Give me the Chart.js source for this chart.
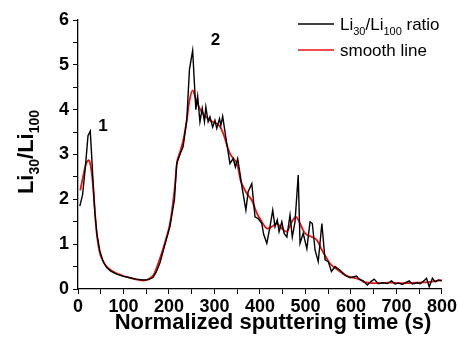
<!DOCTYPE html>
<html>
<head>
<meta charset="utf-8">
<script src="https://cdn.jsdelivr.net/npm/chart.js@4.4.1/dist/chart.umd.min.js"></script>
<style>
  html, body { margin: 0; padding: 0; background: #fff; }
  #wrap { width: 459px; height: 342px; }
</style>
</head>
<body>
<div id="wrap"><canvas id="chartLi"></canvas></div>
<script>
// raw Li30/Li100 ratio (black)
const timeRaw = [4, 10, 16, 22, 27, 32, 37, 42, 48, 55, 63, 72, 85, 100, 114, 128, 143, 155, 165, 172,
  180, 190, 202, 212, 217, 224, 231, 239, 245, 252, 259, 263, 268, 273, 278, 281, 286, 290, 296, 301,
  305, 311, 314, 318, 327, 334, 341, 346, 351, 356, 360, 369, 374, 382, 389, 396, 404, 408, 415, 422,
  428, 433, 438, 442, 448, 453, 459, 466, 471, 477, 484, 488, 495, 503, 510, 515, 521, 528, 536, 543,
  550, 557, 565, 576, 587, 598, 612, 618, 627, 636, 643, 651, 660, 670, 680, 689, 697, 705, 713, 720,
  728, 735, 745, 752, 760, 766, 772, 779, 785, 792, 800];
const ratioRaw = [1.85, 2.1, 2.7, 3.42, 3.52, 2.6, 1.7, 1.2, 0.85, 0.62, 0.48, 0.4, 0.33, 0.28, 0.25, 0.22, 0.2, 0.21, 0.26, 0.38,
  0.58, 0.95, 1.39, 2.0, 2.8, 3.0, 3.17, 3.76, 4.9, 5.32, 4.0, 4.3, 3.73, 4.03, 3.73, 4.06, 3.73, 3.84, 3.61, 3.76,
  3.58, 3.8, 3.65, 3.85, 3.24, 2.8, 2.91, 2.72, 2.91, 2.58, 2.3, 1.76, 2.17, 2.35, 1.61, 1.57, 1.46, 1.22, 1.02, 1.39,
  1.76, 1.39, 1.54, 1.28, 1.5, 1.24, 1.16, 1.65, 1.16, 1.5, 2.54, 1.02, 1.24, 0.9, 1.5, 1.46, 0.87, 0.61, 1.46, 0.65,
  0.61, 0.39, 0.5, 0.42, 0.31, 0.25, 0.29, 0.22, 0.18, 0.09, 0.16, 0.22, 0.12, 0.14, 0.12, 0.18, 0.11, 0.13, 0.1, 0.14,
  0.18, 0.11, 0.14, 0.12, 0.18, 0.24, 0.05, 0.24, 0.16, 0.2, 0.18];

// smoothed curve (red)
const timeSmooth = [5, 12, 18, 24, 30, 36, 41, 48, 55, 63, 75, 85, 100, 114, 130, 143, 155, 165, 172, 180,
  190, 202, 212, 218, 224, 231, 239, 245, 252, 261, 272, 290, 308, 319, 334, 349, 358, 371, 382, 393,
  404, 415, 426, 437, 448, 459, 470, 479, 488, 499, 514, 525, 536, 547, 557, 572, 587, 601, 618, 627,
  656, 686, 715, 744, 774, 800];
const ratioSmooth = [2.2, 2.55, 2.8, 2.87, 2.6, 1.9, 1.25, 0.8, 0.62, 0.5, 0.4, 0.35, 0.29, 0.25, 0.21, 0.19, 0.22, 0.3, 0.45, 0.68,
  1.0, 1.45, 2.2, 2.85, 3.05, 3.3, 3.76, 4.2, 4.43, 4.17, 3.95, 3.76, 3.67, 3.47, 3.02, 2.8, 2.4, 2.13, 1.98, 1.69,
  1.5, 1.35, 1.39, 1.46, 1.35, 1.28, 1.5, 1.61, 1.46, 1.24, 1.16, 1.09, 0.87, 0.68, 0.53, 0.42, 0.31, 0.26, 0.22, 0.16,
  0.13, 0.14, 0.13, 0.14, 0.16, 0.2];

// peak labels
const peakNames = ['1', '2'];
const peakTime = [55, 302];
const peakRatio = [3.62, 5.55];

const FONT = '"Liberation Sans", Arial, sans-serif';

function toPoints(xs, ys) {
    return xs.map((x, i) => ({ x: x, y: ys[i] }));
}

function partFont(weight, size, sub) {
    return weight + ' ' + (sub ? Math.round(size * 0.62) : size) + 'px ' + FONT;
}

// text with subscript parts: [[text, isSub], ...]
function drawRich(ctx, parts, x, y, size, weight) {
    let cx = x;
    parts.forEach(p => {
        ctx.font = partFont(weight, size, p[1]);
        ctx.fillText(p[0], cx, p[1] ? y + size * 0.28 : y);
        cx += ctx.measureText(p[0]).width;
    });
    return cx - x;
}

function richWidth(ctx, parts, size, weight) {
    let w = 0;
    parts.forEach(p => {
        ctx.font = partFont(weight, size, p[1]);
        w += ctx.measureText(p[0]).width;
    });
    return w;
}

const decorPlugin = {
    id: 'decor',
    afterDraw(chart) {
        const ctx = chart.ctx;
        const xs = chart.scales.x, ys = chart.scales.y;
        ctx.save();
        ctx.fillStyle = '#000';
        ctx.textBaseline = 'alphabetic';

        // axis titles
        ctx.font = 'bold 22px ' + FONT;
        ctx.textAlign = 'center';
        ctx.fillText('Normalized sputtering time (s)', 273, 329);

        ctx.textAlign = 'left';
        const yParts = [['Li', false], ['30', true], ['/Li', false], ['100', true]];
        const w = richWidth(ctx, yParts, 22, 'bold');
        ctx.save();
        ctx.translate(33, 152);
        ctx.rotate(-Math.PI / 2);
        drawRich(ctx, yParts, -w / 2, 0, 22, 'bold');
        ctx.restore();

        // peak numbers
        ctx.font = 'bold 17px ' + FONT;
        ctx.textAlign = 'center';
        ctx.textBaseline = 'middle';
        peakNames.forEach((n, i) => {
            ctx.fillText(n, xs.getPixelForValue(peakTime[i]), ys.getPixelForValue(peakRatio[i]));
        });

        // legend
        ctx.textAlign = 'left';
        ctx.textBaseline = 'alphabetic';
        const items = [
            { color: '#000000', parts: [['Li', false], ['30', true], ['/Li', false], ['100', true], [' ratio', false]] },
            { color: '#ee1111', parts: [['smooth line', false]] }
        ];
        items.forEach((it, i) => {
            const ly = 24 + i * 26;
            ctx.strokeStyle = it.color;
            ctx.lineWidth = 1.5;
            ctx.beginPath();
            ctx.moveTo(298, ly);
            ctx.lineTo(334, ly);
            ctx.stroke();
            drawRich(ctx, it.parts, 340, ly + 6, 17, 'normal');
        });
        ctx.restore();
    }
};

new Chart(document.getElementById('chartLi'), {
    type: 'line',
    data: {
        datasets: [
            {
                label: 'Li30/Li100 ratio',
                data: toPoints(timeRaw, ratioRaw),
                borderColor: '#000000',
                borderWidth: 1.4,
                tension: 0,
                pointRadius: 0,
                fill: false
            },
            {
                label: 'smooth line',
                data: toPoints(timeSmooth, ratioSmooth),
                borderColor: '#ee1111',
                borderWidth: 1.8,
                tension: 0.35,
                pointRadius: 0,
                fill: false
            }
        ]
    },
    options: {
        responsive: true,
        maintainAspectRatio: false,
        animation: false,
        layout: { padding: { left: 0, top: 20, right: 17, bottom: 0 } },
        plugins: { legend: { display: false }, tooltip: { enabled: false } },
        scales: {
            x: {
                type: 'linear',
                min: 0, max: 800,
                afterFit: s => { s.height = 53; },
                border: { display: true, color: '#000', width: 1.3 },
                grid: { drawOnChartArea: false, drawTicks: true, tickLength: 5, color: '#000', tickWidth: 1 },
                ticks: {
                    stepSize: 50,
                    padding: 2,
                    autoSkip: false,
                    maxRotation: 0,
                    color: '#000',
                    font: { family: FONT, size: 18, weight: 'bold' },
                    callback: v => (v % 100 === 0 ? v : '')
                }
            },
            y: {
                min: 0, max: 6,
                afterFit: s => { s.width = 78; },
                border: { display: true, color: '#000', width: 1.3 },
                grid: { drawOnChartArea: false, drawTicks: true, tickLength: 5, color: '#000', tickWidth: 1 },
                ticks: {
                    stepSize: 0.5,
                    padding: 4,
                    autoSkip: false,
                    color: '#000',
                    font: { family: FONT, size: 18, weight: 'bold' },
                    callback: v => (Number.isInteger(v) ? v : '')
                }
            }
        }
    },
    plugins: [decorPlugin]
});
</script>
</body>
</html>
